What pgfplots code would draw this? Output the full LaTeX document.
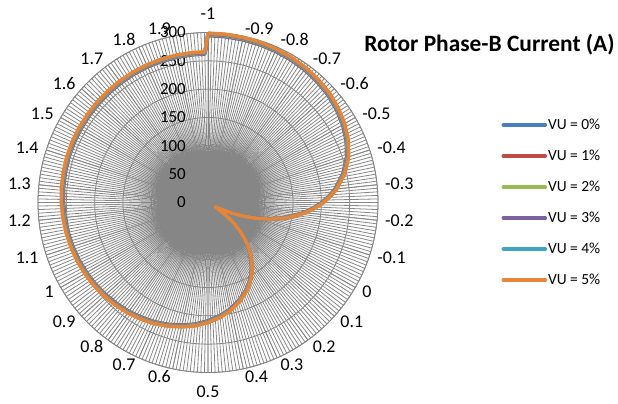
\documentclass[border=0pt]{standalone}
\usepackage{pgfplots}
\pgfplotsset{compat=1.18}
\usepgfplotslibrary{polar}
\usepackage{pgfplotstable}
\usepackage{fontspec}
\setmainfont{Carlito}

\definecolor{gridgray}{RGB}{134,134,134}
\definecolor{vublue}{HTML}{4A7EBB}
\definecolor{vured}{HTML}{BE4B48}
\definecolor{vugreen}{HTML}{98B954}
\definecolor{vupurple}{HTML}{7D60A0}
\definecolor{vucyan}{HTML}{41A4C2}
\definecolor{vuorange}{HTML}{E68538}

% Rotor phase-B current (A) against slip; one column per voltage unbalance level
\pgfplotstableread{
s      vu0    vu1    vu2    vu3    vu4    vu5
-1.00  294.5  295.4  296.3  297.2  298.1  299
-0.95  294.0  294.9  295.8  296.7  297.6  298.5
-0.90  293.5  294.4  295.3  296.2  297.1  298
-0.85  293.0  293.9  294.8  295.7  296.6  297.5
-0.80  292.0  292.9  293.8  294.7  295.6  296.5
-0.75  291.0  291.9  292.8  293.7  294.6  295.5
-0.70  289.6  290.5  291.4  292.2  293.1  294
-0.65  287.1  288.0  288.9  289.8  290.6  291.5
-0.60  284.2  285.0  285.9  286.8  287.6  288.5
-0.55  279.7  280.6  281.4  282.3  283.1  284
-0.50  274.3  275.2  276.0  276.8  277.7  278.5
-0.45  266.9  267.8  268.6  269.4  270.2  271
-0.40  257.1  257.9  258.7  259.4  260.2  261
-0.35  243.3  244.0  244.8  245.5  246.3  247
-0.30  225.1  225.8  226.4  227.1  227.8  228.5
-0.275 213.7  214.4  215.0  215.7  216.3  217
-0.25  200.9  201.6  202.2  202.8  203.4  204
-0.225 186.2  186.7  187.3  187.9  188.4  189
-0.20  170.4  170.9  171.4  172.0  172.5  173
-0.175 152.2  152.6  153.1  153.6  154.0  154.5
-0.15  133.0  133.4  133.8  134.2  134.6  135
-0.125 111.8  112.1  112.5  112.8  113.2  113.5
-0.10   89.6   89.9   90.2   90.5   90.7   91
-0.075  67.5   67.7   67.9   68.1   68.3   68.5
-0.05   45.3   45.4   45.6   45.7   45.9   46
-0.025  24.6   24.7   24.8   24.8   24.9   25
0.00    15.0   15.0   15.0   15.0   15.0   15
0.025   21.7   21.7   21.8   21.9   21.9   22
0.05    40.4   40.5   40.6   40.8   40.9   41
0.075   58.6   58.8   59.0   59.1   59.3   59.5
0.10    75.8   76.1   76.3   76.5   76.8   77
0.125   91.1   91.4   91.7   91.9   92.2   92.5
0.15   105.4  105.7  106.0  106.4  106.7  107
0.175  118.2  118.6  118.9  119.3  119.6  120
0.20   130.0  130.4  130.8  131.2  131.6  132
0.225  140.9  141.3  141.7  142.1  142.6  143
0.25   150.2  150.7  151.1  151.6  152.0  152.5
0.275  159.1  159.6  160.1  160.5  161.0  161.5
0.30   167.0  167.5  168.0  168.5  169.0  169.5
0.35   180.3  180.8  181.4  181.9  182.5  183
0.40   191.6  192.2  192.8  193.3  193.9  194.5
0.45   200.9  201.6  202.2  202.8  203.4  204
0.50   208.8  209.5  210.1  210.7  211.4  212
0.55   215.7  216.4  217.0  217.7  218.3  219
0.60   221.1  221.8  222.5  223.2  223.8  224.5
0.65   226.1  226.7  227.4  228.1  228.8  229.5
0.70   230.5  231.2  231.9  232.6  233.3  234
0.75   233.9  234.7  235.4  236.1  236.8  237.5
0.80   237.4  238.1  238.8  239.6  240.3  241
0.85   240.3  241.1  241.8  242.5  243.3  244
0.90   242.8  243.5  244.3  245.0  245.8  246.5
0.95   245.3  246.0  246.8  247.5  248.3  249
1.00   247.2  248.0  248.7  249.5  250.2  251
1.05   249.2  250.0  250.7  251.5  252.2  253
1.10   250.7  251.5  252.2  253.0  253.7  254.5
1.15   252.2  252.9  253.7  254.5  255.2  256
1.20   253.6  254.4  255.2  256.0  256.7  257.5
1.25   255.1  255.9  256.7  257.4  258.2  259
1.30   256.1  256.9  257.7  258.4  259.2  260
1.35   257.1  257.9  258.7  259.4  260.2  261
1.40   258.1  258.9  259.6  260.4  261.2  262
1.45   258.6  259.4  260.1  260.9  261.7  262.5
1.50   259.1  259.8  260.6  261.4  262.2  263
1.55   259.5  260.3  261.1  261.9  262.7  263.5
1.60   260.0  260.8  261.6  262.4  263.2  264
1.65   260.5  261.3  262.1  262.9  263.7  264.5
1.70   261.0  261.8  262.6  263.4  264.2  265
1.75   261.5  262.3  263.1  263.9  264.7  265.5
1.80   262.0  262.8  263.6  264.4  265.2  266
1.85   262.0  262.8  263.6  264.4  265.2  266
1.90   262.0  262.8  263.6  264.4  265.2  266
1.95   262.0  262.8  263.6  264.4  265.2  266
1.99   262.0  262.8  263.6  264.4  265.2  266
2.00   294.5  295.4  296.3  297.2  298.1  299
}\rotorcurrent

% category label: angle, text, anchor, distance (bp) outside the outer ring
\newcommand{\catlabel}[4]{%
  \node[anchor=#3, inner sep=0pt,
        xshift={#4*cos(#1)*1bp}, yshift={#4*sin(#1)*1bp},
        font=\fontsize{18}{20}\selectfont] at (axis cs:#1,300) {#2};}

\begin{document}
\begin{tikzpicture}
\useasboundingbox (0,0) rectangle (618bp,404bp);
\begin{polaraxis}[
  at={(208bp,201.5bp)}, anchor=center,
  scale only axis, width=340bp, height=340bp,
  clip=false,
  xmin=90, xmax=450, ymin=0, ymax=300,
  xtick={102,114,...,450},
  xticklabels={},
  minor xtick={90,91.2,...,449},
  ytick={0,50,...,300},
  yticklabels={0,50,100,150,200,250,300},
  grid=both,
  major grid style={gridgray, line width=0.8bp},
  minor grid style={gridgray, line width=0.8bp},
  axis line style={gridgray, line width=0.8bp},
  major tick length=0pt, minor tick length=0pt,
  yticklabel style={anchor=east, inner sep=0pt, xshift=-22bp,
    font=\fontsize{17}{19}\selectfont, text=black},
  legend style={at={(1.354,0.5)}, anchor=west, draw=none, fill=none,
    font=\fontsize{15.5}{17}\selectfont, row sep=17bp,
    nodes={inner sep=1bp}},
  legend cell align=left,
  legend image code/.code={\draw[#1, line cap=round] (0bp,0bp) -- (42bp,0bp);},
  every axis plot/.append style={line width=3.5bp, line join=round},
]
\addplot[vublue]   table[x expr={330-120*\thisrow{s}}, y=vu0] {\rotorcurrent};
\addlegendentry{VU = 0\%}
\addplot[vured]    table[x expr={330-120*\thisrow{s}}, y=vu1] {\rotorcurrent};
\addlegendentry{VU = 1\%}
\addplot[vugreen]  table[x expr={330-120*\thisrow{s}}, y=vu2] {\rotorcurrent};
\addlegendentry{VU = 2\%}
\addplot[vupurple] table[x expr={330-120*\thisrow{s}}, y=vu3] {\rotorcurrent};
\addlegendentry{VU = 3\%}
\addplot[vucyan]   table[x expr={330-120*\thisrow{s}}, y=vu4] {\rotorcurrent};
\addlegendentry{VU = 4\%}
\addplot[vuorange] table[x expr={330-120*\thisrow{s}}, y=vu5] {\rotorcurrent};
\addlegendentry{VU = 5\%}

\catlabel{450}{-1}{south}{13}
\catlabel{438}{-0.9}{west}{8}
\catlabel{426}{-0.8}{west}{8}
\catlabel{414}{-0.7}{west}{8}
\catlabel{402}{-0.6}{west}{8}
\catlabel{390}{-0.5}{west}{8}
\catlabel{378}{-0.4}{west}{8}
\catlabel{366}{-0.3}{west}{8}
\catlabel{354}{-0.2}{west}{8}
\catlabel{342}{-0.1}{west}{8}
\catlabel{330}{0}{west}{8}
\catlabel{318}{0.1}{west}{8}
\catlabel{306}{0.2}{west}{8}
\catlabel{294}{0.3}{west}{8}
\catlabel{282}{0.4}{west}{8}
\catlabel{270}{0.5}{north}{13}
\catlabel{258}{0.6}{east}{8}
\catlabel{246}{0.7}{east}{8}
\catlabel{234}{0.8}{east}{8}
\catlabel{222}{0.9}{east}{8}
\catlabel{210}{1}{east}{8}
\catlabel{198}{1.1}{east}{8}
\catlabel{186}{1.2}{east}{8}
\catlabel{174}{1.3}{east}{8}
\catlabel{162}{1.4}{east}{8}
\catlabel{150}{1.5}{east}{8}
\catlabel{138}{1.6}{east}{8}
\catlabel{126}{1.7}{east}{8}
\catlabel{114}{1.8}{east}{8}
\catlabel{102}{1.9}{east}{8}
\end{polaraxis}
\node[anchor=base, font=\fontsize{23.5}{25}\selectfont\bfseries] at (489.5bp,352.3bp) {Rotor Phase-B Current (A)};
\end{tikzpicture}
\end{document}
